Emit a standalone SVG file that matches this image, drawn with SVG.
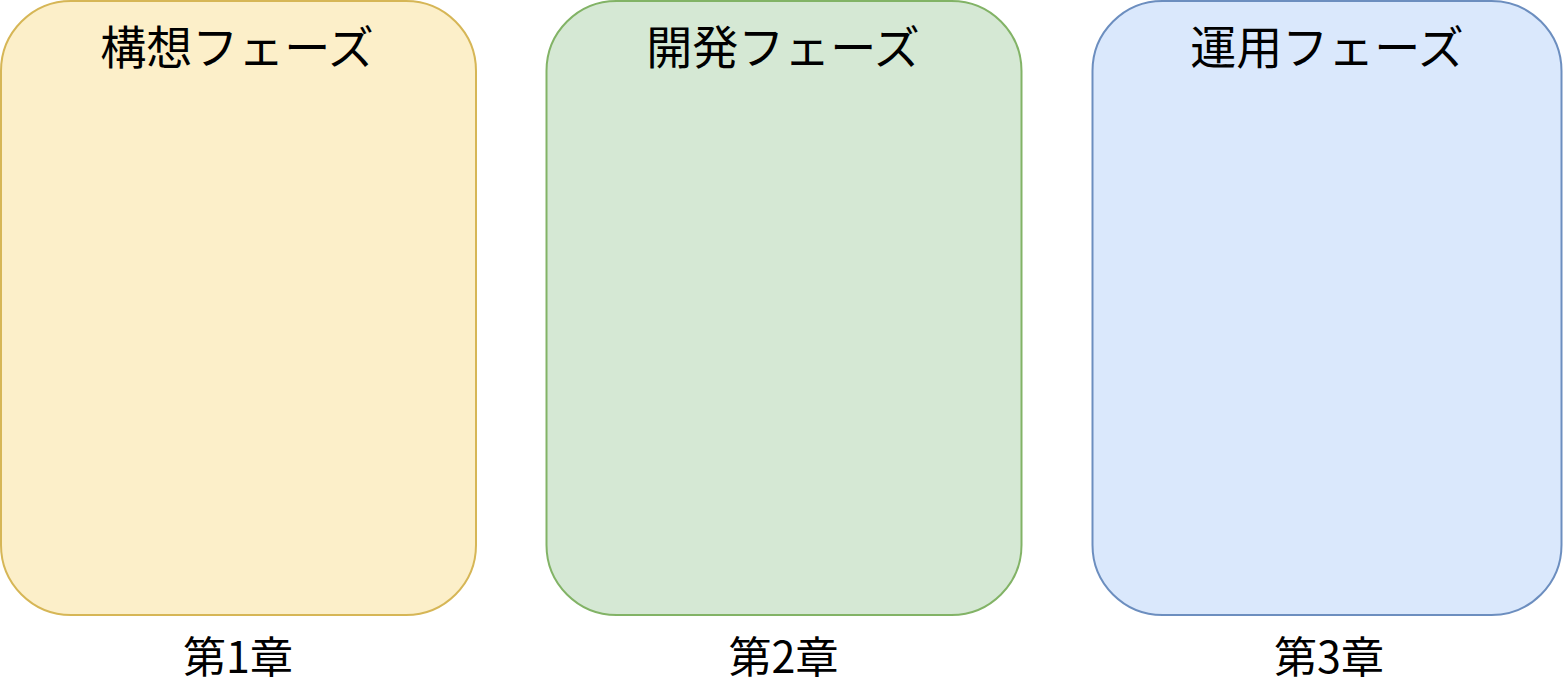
<svg xmlns="http://www.w3.org/2000/svg" width="1563" height="688" viewBox="0 0 1563 688">
<style>
.box{stroke-width:2}
.title{font-family:"Noto Sans CJK JP","Noto Sans CJK SC",sans-serif;font-size:46px;fill:#000;text-anchor:middle}
.ch{font-family:"Noto Sans CJK JP","Noto Sans CJK SC",sans-serif;font-size:43px;font-weight:400;fill:#000;text-anchor:middle}
</style>
<rect width="1563" height="688" fill="#ffffff"/>
<g id="phase1">
<rect class="box" x="1" y="1" width="475" height="614" rx="70" ry="70" fill="#fcefc9" stroke="#d6b656"/>
<text class="title" x="237" y="64">構想フェーズ</text>
</g>
<g id="phase2">
<rect class="box" x="546.5" y="1" width="475" height="614" rx="70" ry="70" fill="#d5e8d4" stroke="#82b366"/>
<text class="title" x="783" y="64">開発フェーズ</text>
</g>
<g id="phase3">
<rect class="box" x="1092.5" y="1" width="469" height="614" rx="70" ry="70" fill="#dae8fc" stroke="#6c8ebf"/>
<text class="title" x="1327" y="64">運用フェーズ</text>
</g>
<g id="chapter1"><text class="ch" x="238" y="673">第1章</text></g>
<g id="chapter2"><text class="ch" x="783.5" y="673">第2章</text></g>
<g id="chapter3"><text class="ch" x="1329" y="673">第3章</text></g>
<g id="connectors"></g>
</svg>
